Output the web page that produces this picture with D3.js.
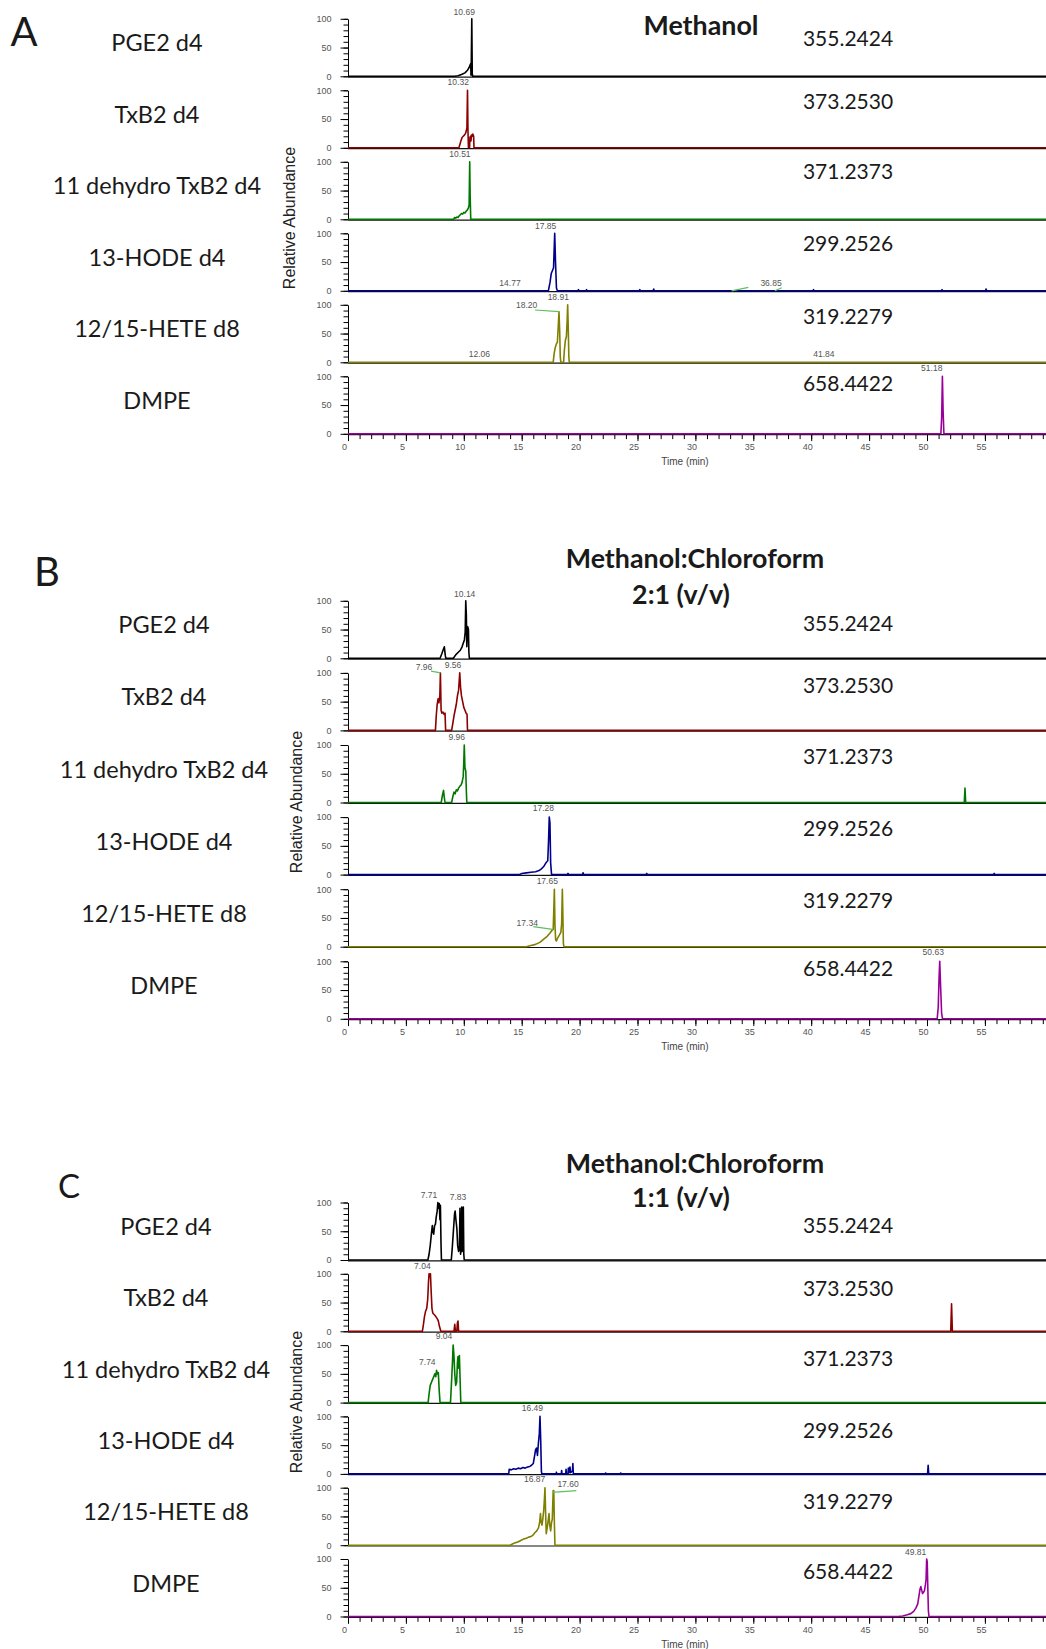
<!DOCTYPE html>
<html lang="en">
<head>
<meta charset="UTF-8">
<title>Extraction solvent chromatograms</title>
<script src="https://cdnjs.cloudflare.com/ajax/libs/d3/7.8.5/d3.min.js"></script>
<style>
  body { margin: 0; background: #fff; }
  svg { display: block; }
  .tick text { font-family: Arial, "Liberation Sans", sans-serif; fill: #555; }
  .axis path, .axis line { stroke: #000; }
  .peak-label { font-family: Arial, "Liberation Sans", sans-serif; font-size: 8.5px; fill: #555; text-anchor: middle; }
  .big { font-family: Lato, "Open Sans", sans-serif; fill: #1a1a1a; }
</style>
</head>
<body>
<svg id="chart" width="1046" height="1649"></svg>
<script>
// ---- data ----
const compounds = ["PGE2 d4", "TxB2 d4", "11 dehydro TxB2 d4", "13-HODE d4", "12/15-HETE d8", "DMPE"];
const mzLabels = ["355.2424", "373.2530", "371.2373", "299.2526", "319.2279", "658.4422"];
const traceColors = ["#000000", "#8b0000", "#007800", "#00008b", "#808000", "#990099"];
const xMajorTicks = [0, 5, 10, 15, 20, 25, 30, 35, 40, 45, 50, 55];
const yMajorTicks = [0, 50, 100];
const panelLetters = ["A", "B", "C"];
const panelTitles = [["Methanol"], ["Methanol:Chloroform", "2:1 (v/v)"], ["Methanol:Chloroform", "1:1 (v/v)"]];

// traces: [time (min), relative abundance %], one array per compound
const methanolTraces = [
  [[9.2,0],[9.5,1],[9.8,3],[10.1,6],[10.3,10],[10.45,15],[10.55,20],[10.6,22],[10.62,2],[10.65,30],[10.69,100],[10.73,5],[10.77,0]],
  [[9.58,0],[9.65,5],[9.75,12],[9.85,18],[9.95,20],[10.05,22],[10.15,25],[10.22,30],[10.27,35],[10.32,100],[10.36,30],[10.4,0],[10.5,0],[10.53,18],[10.58,20],[10.62,12],[10.66,22],[10.72,20],[10.78,24],[10.85,20],[10.88,0]],
  [[9.12,0],[9.2,3],[9.3,2],[9.4,4],[9.5,3],[9.6,6],[9.7,8],[9.8,10],[9.9,9],[10.0,12],[10.1,11],[10.2,14],[10.3,16],[10.4,20],[10.46,25],[10.51,100],[10.55,40],[10.6,0]],
  [[17.3,0],[17.45,15],[17.55,30],[17.65,35],[17.75,40],[17.85,100],[17.92,50],[18.0,5],[18.08,0],
   [19.85,0],[19.9,2],[19.95,0],[20.55,0],[20.6,2],[20.65,0],[25.15,0],[25.2,2],[25.25,0],[26.35,0],[26.4,3],[26.45,0],
   [40.15,0],[40.2,2],[40.25,0],[51.25,0],[51.3,2],[51.35,0],[55.05,0],[55.1,3],[55.15,0]],
  [[17.72,0],[17.8,15],[17.9,26],[18.0,32],[18.08,35],[18.15,60],[18.22,88],[18.28,55],[18.33,10],[18.38,0],[18.62,0],[18.68,20],[18.77,38],[18.86,45],[18.92,70],[18.97,100],[19.02,60],[19.07,10],[19.11,0]],
  [[51.2,0],[51.27,30],[51.33,100],[51.39,40],[51.46,0]]
];
const methanolPeaks = [
  [0, "10.69", 10.04, 112], [1, "10.32", 9.52, 114], [2, "10.51", 9.67, 114],
  [3, "17.85", 17.07, 113], [3, "14.77", 13.99, 14], [3, "36.85", 36.53, 14],
  [4, "18.20", 15.43, 100], [4, "18.91", 18.16, 113], [4, "12.06", 11.34, 14], [4, "41.84", 41.1, 14],
  [5, "51.18", 50.41, 115]
];
const methanolLeaders = [
  [4, 16.15, 91, 18.22, 88], [3, 33.13, 0, 34.57, 6], [3, 36.87, 0, 37.45, 5.4]
];

const chcl3TwoTraces = [
  [[7.95,0],[8.1,8],[8.22,15],[8.32,20],[8.4,5],[8.45,0],[9.1,0],[9.3,6],[9.5,10],[9.7,14],[9.85,20],[9.95,26],[10.05,32],[10.12,45],[10.17,100],[10.22,75],[10.26,20],[10.3,40],[10.34,55],[10.4,50],[10.44,10],[10.48,0]],
  [[7.55,0],[7.62,25],[7.7,45],[7.78,55],[7.85,48],[7.93,60],[7.98,100],[8.04,35],[8.1,30],[8.2,32],[8.3,28],[8.38,30],[8.43,0],[8.95,0],[9.05,12],[9.15,25],[9.25,35],[9.35,45],[9.45,60],[9.55,70],[9.65,100],[9.72,75],[9.8,60],[9.9,50],[10.0,40],[10.1,35],[10.2,30],[10.28,28],[10.32,0]],
  [[8.05,0],[8.15,12],[8.25,21],[8.32,8],[8.38,0],[8.95,0],[9.05,10],[9.15,18],[9.25,15],[9.35,22],[9.45,20],[9.55,25],[9.65,28],[9.75,30],[9.85,35],[9.95,45],[10.0,70],[10.04,100],[10.1,60],[10.17,55],[10.22,20],[10.26,0],
   [53.22,0],[53.28,25],[53.34,0]],
  [[14.8,0],[15.0,2],[15.4,3],[15.8,4],[16.2,5],[16.5,7],[16.7,10],[16.9,14],[17.05,19],[17.15,22],[17.25,24],[17.32,60],[17.38,100],[17.44,90],[17.5,20],[17.58,0],
   [18.95,0],[19.0,2],[19.05,0],[20.25,0],[20.3,3],[20.35,0],[25.75,0],[25.8,2],[25.85,0],[55.75,0],[55.8,2],[55.85,0]],
  [[15.4,0],[15.8,2],[16.2,4],[16.6,8],[16.9,13],[17.2,18],[17.45,24],[17.6,28],[17.72,30],[17.78,70],[17.82,100],[17.87,40],[17.93,12],[18.0,10],[18.1,15],[18.25,20],[18.38,25],[18.45,40],[18.51,100],[18.56,50],[18.6,5],[18.65,0]],
  [[50.88,0],[50.97,20],[51.04,70],[51.1,100],[51.16,65],[51.26,10],[51.34,0]]
];
const chcl3TwoPeaks = [
  [0, "10.14", 10.08, 112], [1, "7.96", 6.56, 111], [1, "9.56", 9.07, 113], [2, "9.96", 9.39, 114],
  [3, "17.28", 16.87, 115], [4, "17.65", 17.21, 114], [4, "17.34", 15.48, 42], [5, "50.63", 50.54, 117]
];
const chcl3TwoLeaders = [
  [1, 7.17, 103, 8.0, 100], [4, 16.0, 35, 17.68, 30]
];

const chcl3OneTraces = [
  [[6.9,0],[7.0,10],[7.1,25],[7.2,45],[7.28,60],[7.33,50],[7.4,45],[7.48,60],[7.55,62],[7.62,75],[7.7,85],[7.76,100],[7.82,90],[7.88,98],[7.94,70],[7.98,95],[8.03,30],[8.07,0],
   [8.92,0],[9.0,20],[9.1,50],[9.2,80],[9.25,85],[9.32,70],[9.4,55],[9.47,25],[9.55,15],[9.62,20],[9.67,90],[9.72,10],[9.78,20],[9.82,92],[9.86,15],[9.92,20],[9.96,92],[10.0,10],[10.04,0]],
  [[6.42,0],[6.5,10],[6.6,25],[6.7,35],[6.8,40],[6.88,55],[6.95,85],[7.0,100],[7.06,95],[7.12,100],[7.18,70],[7.25,40],[7.32,32],[7.4,30],[7.5,28],[7.6,25],[7.7,22],[7.8,18],[7.88,10],[7.95,5],[8.02,0],
   [9.15,0],[9.22,12],[9.28,0],[9.4,0],[9.45,15],[9.5,18],[9.55,0],[52.05,0],[52.12,48],[52.19,0]],
  [[6.92,0],[7.0,15],[7.1,30],[7.2,35],[7.3,40],[7.4,45],[7.5,50],[7.58,45],[7.65,56],[7.72,50],[7.8,52],[7.88,20],[7.95,0],
   [8.85,0],[8.95,40],[9.02,70],[9.08,100],[9.14,85],[9.22,50],[9.3,30],[9.38,35],[9.45,70],[9.5,80],[9.56,60],[9.62,82],[9.68,40],[9.74,0]],
  [[13.88,0],[13.92,8],[14.1,7],[14.3,9],[14.5,8],[14.7,10],[14.9,9],[15.1,11],[15.3,10],[15.5,12],[15.7,13],[15.85,15],[16.0,18],[16.1,30],[16.2,42],[16.28,45],[16.36,32],[16.45,55],[16.52,70],[16.58,100],[16.64,60],[16.7,5],[16.74,0],
   [17.98,0],[18.0,3],[18.03,0],[18.42,0],[18.45,6],[18.48,0],[18.8,0],[18.83,8],[18.86,0],[19.0,0],[19.03,10],[19.08,2],[19.17,12],[19.22,2],[19.38,5],[19.42,18],[19.46,0],
   [22.2,0],[22.25,1.5],[22.3,0],[23.5,0],[23.55,1.5],[23.6,0],[50.05,0],[50.1,15],[50.15,0]],
  [[14.0,0],[14.2,2],[14.4,4],[14.6,5],[14.8,7],[15.0,9],[15.2,11],[15.4,12],[15.6,14],[15.8,15],[16.0,18],[16.15,22],[16.3,25],[16.45,30],[16.55,40],[16.62,55],[16.68,40],[16.75,35],[16.82,45],[16.9,60],[16.96,80],[17.01,100],[17.06,60],[17.12,20],[17.2,30],[17.3,45],[17.36,55],[17.42,35],[17.5,25],[17.58,40],[17.64,45],[17.68,70],[17.72,95],[17.77,95],[17.82,40],[17.87,0]],
  [[47.5,0],[47.9,1],[48.3,3],[48.6,5],[48.85,9],[49.05,15],[49.2,22],[49.3,35],[49.4,48],[49.47,52],[49.55,45],[49.62,40],[49.7,42],[49.78,45],[49.86,55],[49.92,65],[49.97,100],[50.02,95],[50.07,50],[50.12,10],[50.17,0]]
];
const chcl3OnePeaks = [
  [0, "7.71", 6.99, 113], [0, "7.83", 9.5, 110], [1, "7.04", 6.42, 114], [2, "9.04", 8.29, 116], [2, "7.74", 6.85, 71],
  [3, "16.49", 15.92, 114], [4, "16.87", 16.12, 115], [4, "17.60", 19.0, 106], [5, "49.81", 49.02, 113]
];
const chcl3OneLeaders = [
  [4, 17.64, 92, 19.72, 95]
];

// ---- layout ----
const panels = [
  { traces: methanolTraces, peaks: methanolPeaks, leaders: methanolLeaders,
    zero0: 76.3, step: 71.5, nameX: 157, letter: [24, 31, 40], ylab: [289, 218],
    titleY: [25], titleX: [701], mzOff: [39, 47, 49, 48, 47, 51] },
  { traces: chcl3TwoTraces, peaks: chcl3TwoPeaks, leaders: chcl3TwoLeaders,
    zero0: 658.3, step: 72.1, nameX: 164, letter: [47, 571, 40], ylab: [296, 802],
    titleY: [558, 594], titleX: [695, 681], mzOff: [36, 46, 47.5, 47.6, 47.7, 51.8] },
  { traces: chcl3OneTraces, peaks: chcl3OnePeaks, leaders: chcl3OneLeaders,
    zero0: 1260, step: 71.3, nameX: 166, letter: [69, 1185, 33], ylab: [296, 1402],
    titleY: [1163, 1197], titleX: [695, 681], mzOff: [36, 44, 45.6, 44, 45, 46.5] }
];
const rowHeight = 57.5;
const svg = d3.select("#chart");
const x = d3.scaleLinear().domain([0, 60]).range([348, 348 + 60 * 11.58]);
const xEnd = x.invert(1046);

const line = (y) => d3.line().x(d => x(d[0])).y(d => y(d[1]));

panels.forEach((p, pi) => {
  const g = svg.append("g");

  g.append("text").attr("class", "big")
    .attr("x", p.letter[0]).attr("y", p.letter[1])
    .attr("text-anchor", "middle").attr("dominant-baseline", "central")
    .style("font-size", p.letter[2] + "px")
    .text(panelLetters[pi]);

  panelTitles[pi].forEach((t, ti) => {
    g.append("text").attr("class", "big")
      .attr("x", p.titleX[ti]).attr("y", p.titleY[ti])
      .attr("text-anchor", "middle").attr("dominant-baseline", "central")
      .style("font-size", "26.8px").style("font-weight", 700)
      .text(t);
  });

  g.append("text")
    .attr("transform", `translate(${p.ylab[0]},${p.ylab[1]}) rotate(-90)`)
    .attr("text-anchor", "middle").attr("dominant-baseline", "central")
    .style("font-family", "Arial, 'Liberation Sans', sans-serif").style("font-size", "16px").style("fill", "#222")
    .text("Relative Abundance");

  compounds.forEach((name, ri) => {
    const zero = p.zero0 + ri * p.step;
    const y = d3.scaleLinear().domain([0, 100]).range([zero, zero - rowHeight]);
    const row = g.append("g");

    // compound name and m/z
    row.append("text").attr("class", "big")
      .attr("x", p.nameX).attr("y", zero - 34)
      .attr("text-anchor", "middle").attr("dominant-baseline", "central")
      .style("font-size", "23.5px").text(name);
    row.append("text").attr("class", "big")
      .attr("x", 848).attr("y", zero - p.mzOff[ri])
      .attr("text-anchor", "middle").attr("dominant-baseline", "central")
      .style("font-size", "21px").text(mzLabels[ri]);

    // y axis: minor then major ticks
    row.append("g").attr("class", "axis")
      .attr("transform", "translate(348,0)")
      .call(d3.axisLeft(y).tickValues(d3.range(0, 101, 10)).tickSize(4.5).tickFormat(""))
      .call(a => a.select(".domain").remove());
    row.append("g").attr("class", "axis")
      .attr("transform", "translate(348,0)")
      .call(d3.axisLeft(y).tickValues(yMajorTicks).tickSize(7.5).tickSizeOuter(0).tickPadding(9))
      .call(a => a.selectAll(".tick text").style("font-size", "9px"));

    // baseline
    row.append("line")
      .attr("x1", x(0)).attr("x2", 1046)
      .attr("y1", zero + 0.8).attr("y2", zero + 0.8)
      .attr("stroke", "#111").attr("stroke-width", 1.2);

    if (ri === compounds.length - 1) {
      const xa = row.append("g").attr("class", "axis")
        .attr("transform", `translate(0,${zero + 0.8})`);
      xa.call(d3.axisBottom(x).tickValues(d3.range(0, 61, 1)).tickSize(4.5).tickFormat(""))
        .call(a => a.select(".domain").remove());
      xa.append("g")
        .call(d3.axisBottom(x).tickValues(xMajorTicks).tickSize(6.5).tickSizeOuter(0).tickPadding(3))
        .call(a => a.select(".domain").remove())
        .call(a => a.selectAll(".tick text").style("font-size", "9px").attr("dx", -4));
      row.append("text")
        .attr("x", 685).attr("y", zero + 28)
        .attr("text-anchor", "middle").attr("dominant-baseline", "central")
        .style("font-family", "Arial, 'Liberation Sans', sans-serif").style("font-size", "10px").style("fill", "#444")
        .text("Time (min)");
    }

    // trace
    const pts = [[0, 0], ...p.traces[ri], [xEnd, 0]];
    row.append("path")
      .datum(pts)
      .attr("d", line(y))
      .attr("fill", "none")
      .attr("stroke", traceColors[ri])
      .attr("stroke-width", 1.6)
      .attr("stroke-linejoin", "round");

    // leader lines
    p.leaders.filter(l => l[0] === ri).forEach(l => {
      row.append("line")
        .attr("x1", x(l[1])).attr("y1", y(l[2]))
        .attr("x2", x(l[3])).attr("y2", y(l[4]))
        .attr("stroke", "#5cc15c").attr("stroke-width", 1.2);
    });

    // peak labels
    p.peaks.filter(k => k[0] === ri).forEach(k => {
      row.append("text").attr("class", "peak-label")
        .attr("x", x(k[2])).attr("y", y(k[3]))
        .attr("dominant-baseline", "central")
        .text(k[1]);
    });
  });
});
</script>
</body>
</html>
